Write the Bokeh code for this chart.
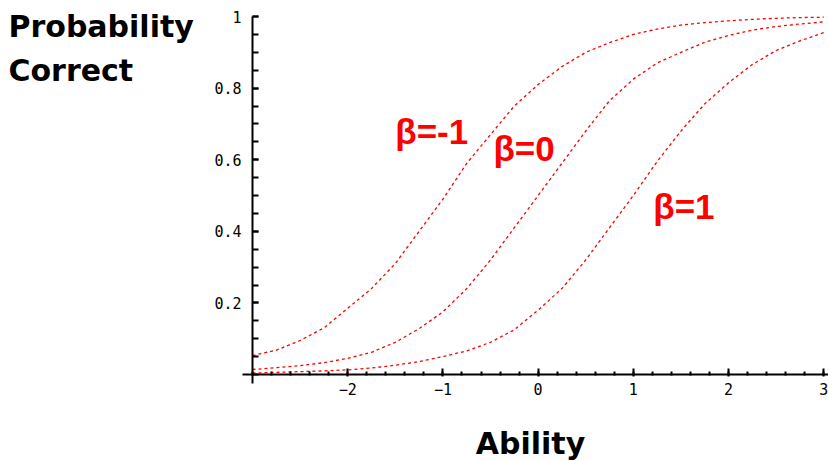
from bokeh.plotting import figure
from bokeh.models import Label, FixedTicker, Range1d, LinearAxis
from bokeh.embed import file_html
from bokeh.resources import INLINE

# Ability values (theta) at which the curves were read
theta = [-3.0, -2.75, -2.5, -2.25, -2.0, -1.75, -1.5, -1.25, -1.0, -0.75, -0.5, -0.25,
         0.0, 0.25, 0.5, 0.75, 1.0, 1.25, 1.5, 1.75, 2.0, 2.25, 2.5, 2.75, 3.0]

# Probability correct, for each item difficulty
p_beta_m1 = [0.053, 0.068, 0.095, 0.13, 0.185, 0.24, 0.31, 0.40, 0.49, 0.59, 0.67, 0.75,
             0.81, 0.86, 0.90, 0.927, 0.95, 0.965, 0.976, 0.983, 0.988, 0.992, 0.995, 0.997, 0.998]
p_beta_0 = [0.014, 0.019, 0.025, 0.033, 0.045, 0.062, 0.09, 0.128, 0.175, 0.24, 0.32, 0.41,
            0.50, 0.59, 0.68, 0.765, 0.825, 0.87, 0.90, 0.928, 0.947, 0.962, 0.972, 0.979, 0.985]
p_beta_1 = [0.004, 0.006, 0.008, 0.010, 0.013, 0.018, 0.026, 0.036, 0.05, 0.066, 0.09, 0.125,
            0.18, 0.24, 0.32, 0.41, 0.50, 0.595, 0.68, 0.756, 0.815, 0.866, 0.905, 0.932, 0.955]

curve_labels = ["β=-1", "β=0", "β=1"]
label_x = [-1.50, -0.47, 1.21]
label_y = [0.68, 0.632, 0.47]

x_ticks = [-2, -1, 0, 1, 2, 3]
x_minor = [round(-3 + 0.2 * i, 2) for i in range(31)]
y_ticks = [0.2, 0.4, 0.6, 0.8, 1.0]
y_tick_labels = ["0.2", "0.4", "0.6", "0.8", "1"]
y_minor = [round(0.05 * i, 2) for i in range(21)]

# visible window (the whole canvas is the plotting frame)
x_lo, x_hi = -5.647, 3.05
y_lo, y_hi = -0.243, 1.0447

p = figure(width=828, height=461, output_backend="svg", toolbar_location=None,
           x_range=Range1d(x_lo, x_hi), y_range=Range1d(y_lo, y_hi),
           x_axis_location=None, y_axis_location=None, title=None,
           min_border_left=0, min_border_right=0, min_border_top=0, min_border_bottom=0)
p.outline_line_color = None
p.xgrid.visible = False
p.ygrid.visible = False
p.background_fill_color = "white"
p.border_fill_color = "white"

for ys in (p_beta_m1, p_beta_0, p_beta_1):
    p.line(theta, ys, line_color="#ff0000", line_width=1.3, line_dash="3 3")

for t, lx, ly in zip(curve_labels, label_x, label_y):
    p.add_layout(Label(x=lx, y=ly, text=t, text_color="#ff0000",
                       text_font="Liberation Sans", text_font_style="bold",
                       text_font_size="35px", text_baseline="alphabetic"))

p.add_layout(Label(x=-5.563, y=0.972, text="Probability", text_color="black",
                   text_font="DejaVu Sans", text_font_style="bold",
                   text_font_size="30px", text_baseline="alphabetic"))
p.add_layout(Label(x=-5.563, y=0.849, text="Correct", text_color="black",
                   text_font="DejaVu Sans", text_font_style="bold",
                   text_font_size="30px", text_baseline="alphabetic"))
p.add_layout(Label(x=-0.08, y=-0.193, text="Ability", text_color="black",
                   text_font="DejaVu Sans", text_font_style="bold",
                   text_font_size="30px", text_baseline="alphabetic", text_align="center"))

xa = LinearAxis(fixed_location=0, bounds=(-3.1, 3.05),
                ticker=FixedTicker(ticks=x_ticks, minor_ticks=x_minor))
ya = LinearAxis(fixed_location=-3, bounds=(-0.025, 1.0),
                ticker=FixedTicker(ticks=y_ticks, minor_ticks=y_minor))
ya.major_label_overrides = {v: s for v, s in zip(y_ticks, y_tick_labels)}

for ax in (xa, ya):
    ax.axis_line_color = "black"
    ax.axis_line_width = 2
    ax.major_tick_line_color = "black"
    ax.major_tick_line_width = 2
    ax.minor_tick_line_color = "black"
    ax.minor_tick_line_width = 2
    ax.major_label_text_font = "DejaVu Sans Mono"
    ax.major_label_text_font_size = "15px"
    ax.major_label_text_color = "black"

xa.major_tick_in = 6
xa.major_tick_out = 2
xa.minor_tick_in = 3
xa.minor_tick_out = 1
xa.major_label_standoff = 6

ya.major_tick_in = 6
ya.major_tick_out = 0
ya.minor_tick_in = 6
ya.minor_tick_out = 0
ya.major_label_standoff = 11

p.add_layout(xa, "below")
p.add_layout(ya, "left")

open("out.html", "w").write(file_html(p, INLINE))
